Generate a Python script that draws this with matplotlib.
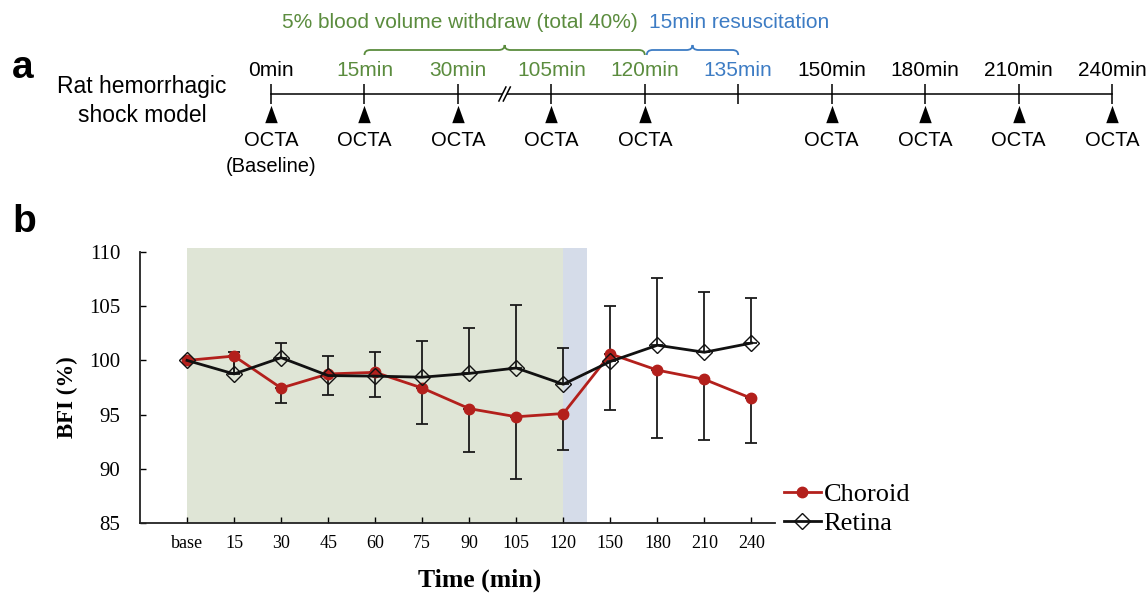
import numpy as np
import matplotlib
matplotlib.use('Agg')
import matplotlib.pyplot as plt
from matplotlib.path import Path
from matplotlib.patches import PathPatch, Polygon

# ---------------- Panel a data ----------------
timeline_labels = ['0min', '15min', '30min', '105min', '120min', '135min',
                   '150min', '180min', '210min', '240min']
timeline_phase = ['base', 'withdraw', 'withdraw', 'withdraw', 'withdraw', 'resus',
                  'post', 'post', 'post', 'post']
octa_flags = [1, 1, 1, 1, 1, 0, 1, 1, 1, 1]
withdraw_text = '5% blood volume withdraw (total 40%)'
resus_text = '15min resuscitation'
model_text = 'Rat hemorrhagic\nshock model'

# ---------------- Panel b data ----------------
time_labels = ['base', '15', '30', '45', '60', '75', '90', '105', '120',
               '150', '180', '210', '240']
choroid = [100.0, 100.4, 97.45, 98.75, 98.9, 97.45, 95.55, 94.8, 95.1,
           100.6, 99.1, 98.25, 96.5]
retina = [100.0, 98.75, 100.25, 98.6, 98.55, 98.45, 98.8, 99.3, 97.8,
          99.9, 101.4, 100.75, 101.6]
retina_err = [0, 2.0, 1.4, 1.85, 2.25, 3.35, 4.15, 5.8, 3.3, 5.1, 6.2, 5.55, 4.15]
choroid_err = [0, 1.6, 1.35, 1.9, 2.3, 3.3, 4.0, 5.75, 3.35, 5.2, 6.25, 5.6, 4.15]

GREEN = '#5b8c3e'
BLUE = '#3d7cc4'
phase_color = {'base': 'black', 'withdraw': GREEN, 'resus': BLUE, 'post': 'black'}

W, H = 1147, 595
fig = plt.figure(figsize=(W / 100, H / 100), dpi=100)

SANS = ['Liberation Sans', 'DejaVu Sans']
SERIF = ['Liberation Serif', 'DejaVu Serif']

# ================= Panel a =================
top_h = 190
ax_a = fig.add_axes([0, 1 - top_h / H, 1, top_h / H])
x0px, x9px = 271, 1112
step = (x9px - x0px) / (len(timeline_labels) - 1)
ax_a.set_xlim(-x0px / step, (W - x0px) / step)
ax_a.set_ylim(top_h, 0)
ax_a.axis('off')

n = len(timeline_labels)
pos = np.arange(n)
line_y = 94
ax_a.plot([pos[0], pos[-1]], [line_y, line_y], color='black', lw=1.1, zorder=2)
ax_a.vlines(pos, line_y - 10, line_y + 10, color='black', lw=1.1, zorder=2)

# break mark between 30min and 105min
bx = 2.5
d = 2.2 / step
s = 3.5 / step
ax_a.add_patch(Polygon([(bx - d - s, line_y + 7), (bx - d + s, line_y - 7),
                        (bx + d + s, line_y - 7), (bx + d - s, line_y + 7)],
                       closed=True, facecolor='white', edgecolor='none', zorder=3))
for dx in (-d, d):
    ax_a.plot([bx + dx - s, bx + dx + s], [line_y + 7, line_y - 7], color='black', lw=1.1, zorder=4)

for i, (lab, ph) in enumerate(zip(timeline_labels, timeline_phase)):
    ax_a.text(i, 71, lab, ha='center', va='center', fontsize=15,
              color=phase_color[ph], family=SANS)

tri = Path([(-0.36, -0.5), (0.36, -0.5), (0.0, 0.5), (-0.36, -0.5)],
           [Path.MOVETO, Path.LINETO, Path.LINETO, Path.CLOSEPOLY])
for i, f in enumerate(octa_flags):
    if f:
        ax_a.plot(i, 114, marker=tri, ms=12.5, color='black', mec='black', mew=0)
        ax_a.text(i, 141, 'OCTA', ha='center', va='center', fontsize=14.5, family=SANS)
ax_a.text(0, 167, '(Baseline)', ha='center', va='center', fontsize=14.5, family=SANS)


def brace(ax, xa, xb, y, h, r, color):
    xm = (xa + xb) / 2
    verts = [(xa, y + h), (xa, y), (xa + r, y), (xm - r, y), (xm, y), (xm, y - h),
             (xm, y), (xm + r, y), (xb - r, y), (xb, y), (xb, y + h)]
    codes = [Path.MOVETO, Path.CURVE3, Path.CURVE3, Path.LINETO, Path.CURVE3, Path.CURVE3,
             Path.CURVE3, Path.CURVE3, Path.LINETO, Path.CURVE3, Path.CURVE3]
    ax.add_patch(PathPatch(Path(verts, codes), facecolor='none', edgecolor=color, lw=1.3))


wd = [i for i, p in enumerate(timeline_phase) if p == 'withdraw']
rs = [i for i, p in enumerate(timeline_phase) if p == 'resus']
brace(ax_a, wd[0], wd[-1], 50, 5, 6 / step, GREEN)
brace(ax_a, wd[-1] + 2 / step, rs[0], 50, 5, 6 / step, BLUE)
ax_a.text(wd[0] - 82 / step, 22, withdraw_text, ha='left', va='center',
          fontsize=15, color=GREEN, family=SANS)
ax_a.text(wd[-1] + 4 / step, 22, resus_text, ha='left', va='center',
          fontsize=15, color=BLUE, family=SANS)

fig.text(12 / W, 1 - 78 / H, 'a', fontsize=28, fontweight='bold', family=SANS, va='baseline')
fig.text(142 / W, 1 - 101 / H, model_text, fontsize=16.5, family=SANS, ha='center',
         va='center', linespacing=1.3)

# ================= Panel b =================
ax = fig.add_axes([140 / W, 72 / H, 635 / W, 271 / H])
x = np.arange(len(time_labels))
i120 = time_labels.index('120')
ax.axvspan(0, i120, ymin=0, ymax=1.013, color='#dfe5d6', lw=0, clip_on=False, zorder=0)
ax.axvspan(i120, i120 + 0.5, ymin=0, ymax=1.013, color='#d5dce9', lw=0, clip_on=False, zorder=0)

zeros = np.zeros(len(x) - 1)
ax.errorbar(x[1:], retina[1:], yerr=[zeros, retina_err[1:]], fmt='none', ecolor='#1a1a1a',
            elinewidth=1.3, capsize=4, capthick=1.3, zorder=2)
ax.errorbar(x[1:], choroid[1:], yerr=[choroid_err[1:], zeros], fmt='none', ecolor='#1a1a1a',
            elinewidth=1.3, capsize=4, capthick=1.3, zorder=2)
ax.plot(x, choroid, color='#b3201c', lw=2.0, marker='o', ms=7.5, mfc='#b3201c',
        mec='#b3201c', label='Choroid', zorder=3)
ax.plot(x, retina, color='#111111', lw=2.0, marker='D', ms=8.5, mfc='none',
        mec='#111111', mew=1.0, label='Retina', zorder=4)

ax.set_xlim(-1, 12.5)
ax.set_ylim(85, 110)
ax.set_yticks([85, 90, 95, 100, 105, 110])
ax.set_xticks(x)
ax.set_xticklabels(time_labels, family=SERIF, fontsize=13)
for t in ax.get_yticklabels():
    t.set_family(SERIF)
    t.set_fontsize(15)
ax.tick_params(axis='y', direction='in', length=4, pad=14, width=1)
ax.tick_params(axis='x', direction='in', length=4, pad=9, width=1)
for sp in ('top', 'right'):
    ax.spines[sp].set_visible(False)
for sp in ('left', 'bottom'):
    ax.spines[sp].set_linewidth(1.3)
    ax.spines[sp].set_color('#222222')
ax.patch.set_alpha(0)

fig.text(67 / W, 1 - 397 / H, 'BFI (%)', rotation=90, fontsize=16.5, fontweight='bold',
         family=SERIF, ha='center', va='center')
fig.text(480 / W, 1 - 580 / H, 'Time (min)', fontsize=18.5, fontweight='bold',
         family=SERIF, ha='center', va='center')
fig.text(12 / W, 1 - 232 / H, 'b', fontsize=28, fontweight='bold', family=SANS, va='baseline')

fig.legend(loc='upper left', bbox_to_anchor=(784 / W, 1 - 483 / H), frameon=False,
           prop={'family': SERIF, 'size': 19}, handlelength=1.4, handletextpad=0.1,
           labelspacing=0.2, borderpad=0, borderaxespad=0)

fig.savefig('out.png', dpi=100)
